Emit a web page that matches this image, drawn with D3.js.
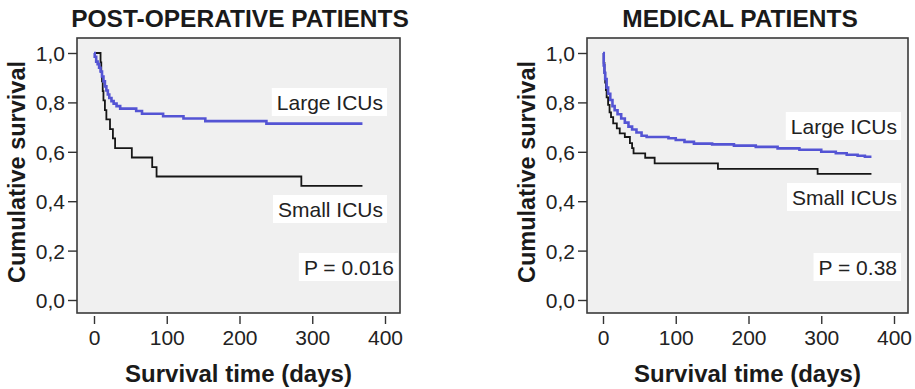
<!DOCTYPE html>
<html>
<head>
<meta charset="utf-8">
<script src="https://cdn.jsdelivr.net/npm/d3@7"></script>
<style>
  body { margin: 0; background: #fff; }
  svg { display: block; font-family: "Liberation Sans", Arial, sans-serif; }
</style>
</head>
<body>
<div id="chart"></div>
<script>
// survival curves (days, cumulative survival)
var postLargeDays = [0, 1, 3, 5, 7, 9, 11, 13, 15, 17, 19, 21, 24, 27, 31, 36, 58, 66, 95, 123, 153, 237, 369];
var postLargeSurv = [1.0, 0.985, 0.965, 0.955, 0.94, 0.925, 0.905, 0.885, 0.865, 0.848, 0.832, 0.818, 0.805, 0.795, 0.785, 0.775, 0.765, 0.754, 0.744, 0.735, 0.724, 0.714, 0.714];

var postSmallDays = [0, 9, 10, 11, 12, 13, 15, 17, 22, 26, 29, 52, 80, 86, 285, 369];
var postSmallSurv = [1.0, 0.962, 0.923, 0.885, 0.846, 0.808, 0.769, 0.731, 0.692, 0.654, 0.615, 0.577, 0.538, 0.5, 0.462, 0.462];

var medLargeDays = [0, 1, 2, 3, 5, 7, 10, 13, 16, 20, 25, 30, 35, 40, 46, 53, 60, 90, 100, 112, 125, 150, 180, 210, 240, 270, 300, 320, 335, 350, 360, 369];
var medLargeSurv = [1.0, 0.95, 0.92, 0.895, 0.86, 0.835, 0.81, 0.785, 0.768, 0.752, 0.735, 0.718, 0.702, 0.69, 0.678, 0.665, 0.66, 0.655, 0.648, 0.64, 0.633, 0.63, 0.625, 0.62, 0.614, 0.608, 0.6, 0.594, 0.588, 0.584, 0.58, 0.58];

var medSmallDays = [0, 1, 2, 3, 4, 5, 7, 9, 11, 14, 19, 23, 30, 37, 40, 42, 58, 71, 158, 295, 369];
var medSmallSurv = [1.0, 0.96, 0.92, 0.88, 0.85, 0.82, 0.79, 0.76, 0.74, 0.715, 0.695, 0.675, 0.66, 0.635, 0.615, 0.594, 0.576, 0.553, 0.531, 0.511, 0.511];

var xTicks = [0, 100, 200, 300, 400];
var yTicks = [0, 0.2, 0.4, 0.6, 0.8, 1.0];

var panelTitles = ["POST-OPERATIVE PATIENTS", "MEDICAL PATIENTS"];
var pValues = ["P = 0.016", "P = 0.38"];

var svgWidth = 915, svgHeight = 389;

var svg = d3.select("#chart").append("svg")
    .attr("width", svgWidth)
    .attr("height", svgHeight);

function zip(days, surv) {
    return days.map(function (d, i) { return { t: d, s: surv[i] }; });
}

// add a white box behind a text label
function boxedLabel(g, x, y, txt) {
    var box = g.append("rect").attr("fill", "#fff");
    var t = g.append("text")
        .attr("x", x)
        .attr("y", y)
        .attr("text-anchor", "end")
        .attr("font-size", "21px")
        .attr("fill", "#222")
        .text(txt);
    var bb = t.node().getBBox();
    box.attr("x", bb.x - 5)
        .attr("y", bb.y - 3)
        .attr("width", bb.width + 9)
        .attr("height", bb.height + 5);
}

function drawPanel(p) {
    var g = svg.append("g");

    var x = d3.scaleLinear().domain([0, 400]).range([p.x0, p.x0 + 291]);
    var y = d3.scaleLinear().domain([0, 1]).range([300, 53]);

    // plot background + frame
    g.append("rect")
        .attr("x", p.left)
        .attr("y", 38)
        .attr("width", p.right - p.left)
        .attr("height", 313 - 38)
        .attr("fill", "#f0f0f0")
        .attr("stroke", "#3a3a3a")
        .attr("stroke-width", 1.6);

    // axes
    var yAxis = g.append("g")
        .attr("transform", `translate(${p.left}, 0)`)
        .call(d3.axisLeft(y).tickValues(yTicks).tickSize(9).tickPadding(3)
            .tickFormat(function (d) { return d3.format(".1f")(d).replace(".", ","); }));

    var xAxis = g.append("g")
        .attr("transform", "translate(0, 316)")
        .call(d3.axisBottom(x).tickValues(xTicks).tickSize(8).tickPadding(6));

    [xAxis, yAxis].forEach(function (a) {
        a.select(".domain").remove();
        a.selectAll("line").attr("stroke", "#333").attr("stroke-width", 1.4);
        a.selectAll("text")
            .attr("font-family", "'Liberation Sans', Arial, sans-serif")
            .attr("font-size", "21px")
            .attr("fill", "#222");
    });
    yAxis.selectAll("text").attr("dy", "0.36em");
    xAxis.selectAll("text").attr("dy", "0.72em");

    // curves
    var line = d3.line()
        .x(function (d) { return x(d.t); })
        .y(function (d) { return y(d.s); })
        .curve(d3.curveStepAfter);

    g.append("path")
        .datum(zip(p.smallDays, p.smallSurv))
        .attr("d", line)
        .attr("fill", "none")
        .attr("stroke", "#161616")
        .attr("stroke-width", 1.8);

    g.append("path")
        .datum(zip(p.largeDays, p.largeSurv))
        .attr("d", line)
        .attr("fill", "none")
        .attr("stroke", "#5454d4")
        .attr("stroke-width", 2.6);

    // labels inside plot
    boxedLabel(g, p.labelX, p.largeY, "Large ICUs");
    boxedLabel(g, p.labelX, p.smallY, "Small ICUs");
    boxedLabel(g, p.pX, 275, p.pText);

    // title
    g.append("text")
        .attr("x", p.titleX)
        .attr("y", 27)
        .attr("text-anchor", "middle")
        .attr("font-size", "24.5px")
        .attr("font-weight", "bold")
        .attr("fill", "#1a1a1a")
        .text(p.title);

    // axis titles
    g.append("text")
        .attr("x", (p.left + p.right) / 2)
        .attr("y", 382)
        .attr("text-anchor", "middle")
        .attr("font-size", "24px")
        .attr("font-weight", "bold")
        .attr("fill", "#1a1a1a")
        .text("Survival time (days)");

    g.append("text")
        .attr("transform", `translate(${p.yTitleX}, 172) rotate(-90)`)
        .attr("text-anchor", "middle")
        .attr("font-size", "23.5px")
        .attr("font-weight", "bold")
        .attr("fill", "#1a1a1a")
        .text("Cumulative survival");
}

drawPanel({
    x0: 94, left: 77, right: 400,
    title: panelTitles[0], titleX: 240,
    yTitleX: 25,
    largeDays: postLargeDays, largeSurv: postLargeSurv,
    smallDays: postSmallDays, smallSurv: postSmallSurv,
    labelX: 383, largeY: 110, smallY: 217,
    pX: 394, pText: pValues[0]
});

drawPanel({
    x0: 603, left: 587, right: 908,
    title: panelTitles[1], titleX: 740,
    yTitleX: 535,
    largeDays: medLargeDays, largeSurv: medLargeSurv,
    smallDays: medSmallDays, smallSurv: medSmallSurv,
    labelX: 897, largeY: 134, smallY: 205,
    pX: 897, pText: pValues[1]
});
</script>
</body>
</html>
